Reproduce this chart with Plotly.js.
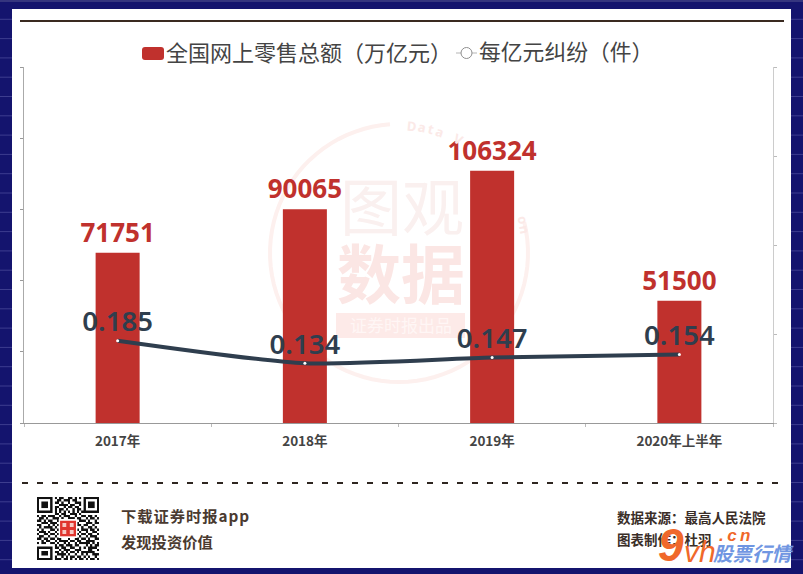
<!DOCTYPE html>
<html><head><meta charset="utf-8">
<script src="https://cdn.plot.ly/plotly-3.0.1.min.js"></script>
<style>html,body{margin:0;padding:0;background:#fff}#c{width:803px;height:574px}</style>
</head><body><div id="c"></div>
<script>
const categories = ['2017年','2018年','2019年','2020年上半年'];
const salesValues = [71751,90065,106324,51500];
const complaintValues = [0.185,0.134,0.147,0.154];
const salesName = '全国网上零售总额（万亿元）';
const complaintName = '每亿元纠纷（件）';
const footerLines = ['下\u200a载\u200a证\u200a券\u200a时\u200a报\u200aa\u200ap\u200ap','发现投资价值','数据来源：最高人民法院','图表制作：杜羽'];
const qrRows = [
'1111111010110011010101111111',
'1000001001101110110001000001',
'1011101011010010011101011101',
'1011101000111101100101011101',
'1011101011001011011001011101',
'1000001010110100101101000001',
'1111111010101010101011111111',
'0000000011011001110100000000',
'1011011100101110010011011010',
'0110100111010011101100101101',
'1101011001101100110111010010',
'0011101110010111001000111011',
'1100010101100000011101100100',
'0101111010100000010010011010',
'1010001101000000101011101101',
'0111010010100000010100100110',
'1001101101100000011011011001',
'0110010010011101100100101110',
'1101101101100010011011010011',
'0010110010111101101100111100',
'1011001101001010010111110101',
'0000000010110111011000101011',
'1111111011011001100101011110',
'1000001000101110011100011001',
'1011101011010101101011111100',
'1011101001111010010010100111',
'1000001010010101101101010010',
'1111111011101101010110101101'];

const W=803,H=574, FONT='"Noto Sans CJK SC","Noto Sans",sans-serif';
const px=x=>x/W, py=y=>1-y/H;
const rect=(x0,y0,x1,y1,fill)=>({type:'rect',xref:'paper',yref:'paper',x0:px(x0),x1:px(x1),y0:py(y0),y1:py(y1),fillcolor:fill,line:{width:0},layer:'below'});
const hline=(x0,x1,y,color,width,dash)=>({type:'line',xref:'paper',yref:'paper',x0:px(x0),x1:px(x1),y0:py(y),y1:py(y),line:{color,width,dash:dash||'solid'},layer:'below'});
const label=(text,x,y,size,color,opt)=>{
  const o=opt||{};
  const anchored=o.xanchor==='center';
  return Object.assign({xref:'paper',yref:'paper',x:px(anchored?x:x-2.5),y:py(y-1.5),text,showarrow:false,xanchor:'left',yanchor:'middle',font:{family:FONT,size,color}},o);
};

// page frame
const shapes=[rect(0,0,W,H,'#14146e'),rect(0,0,W,2,'#35357f')];
for(let y=19.3;y<H;y+=19.3) shapes.push(hline(0,W,y,'#3d3d8f',1));
shapes.push(rect(12,9,791,568,'#ffffff'));
shapes.push(hline(20,784,21,'#3a2a20',2));
shapes.push(hline(22,778,483,'#2e2620',2,'6px,9px'));

// watermark ring (open at the upper right, where the lettering runs)
const cx=399,cy=253,r=129;
let ring='';
for(let a=0;a<=280;a+=4){
  const t=(-4-a)*Math.PI/180;
  ring+=(a?'L':'M')+px(cx+r*Math.sin(t))+','+py(cy-r*Math.cos(t));
}
shapes.push({type:'path',xref:'paper',yref:'paper',path:ring,line:{color:'#fdf0ee',width:4},layer:'below'});
shapes.push(rect(336,313,465,338,'#fdeae8'));

// legend swatches
const sw=(x0,y0,x1,y1,rad)=>'M'+px(x0+rad)+','+py(y0)+'L'+px(x1-rad)+','+py(y0)+'Q'+px(x1)+','+py(y0)+' '+px(x1)+','+py(y0+rad)+'L'+px(x1)+','+py(y1-rad)+'Q'+px(x1)+','+py(y1)+' '+px(x1-rad)+','+py(y1)+'L'+px(x0+rad)+','+py(y1)+'Q'+px(x0)+','+py(y1)+' '+px(x0)+','+py(y1-rad)+'L'+px(x0)+','+py(y0+rad)+'Q'+px(x0)+','+py(y0)+' '+px(x0+rad)+','+py(y0)+'Z';
shapes.push({type:'path',xref:'paper',yref:'paper',path:sw(142,47,164,60,3),fillcolor:'#c0312d',line:{width:0}});
shapes.push(hline(456,477,53,'#b5b5b5',1));
shapes.push({type:'circle',xref:'paper',yref:'paper',x0:px(461),x1:px(472),y0:py(58.5),y1:py(47.5),fillcolor:'#fff',line:{color:'#8f8f8f',width:1}});

const annotations=[
  label(salesName,166,52,22,'#444444'),
  label(complaintName,479,52,21.8,'#444444'),
  label('图观',402,205,62,'#faf0ef',{xanchor:'center'}),
  label('数据',401,271,64,'#fbe6e4',{xanchor:'center',font:{family:FONT,size:64,color:'#fbe6e4',weight:700}}),
  label('证券时报出品',401,326,17,'#fff6f5',{xanchor:'center'}),
  label(footerLines[0],121,516,15.3,'#4a3a30',{font:{family:FONT,size:15.3,color:'#4a3a30',weight:700}}),
  label(footerLines[1],121,542,15.3,'#4a3a30',{font:{family:FONT,size:15.3,color:'#4a3a30',weight:700}}),
  label(footerLines[2],617,518,13.5,'#3a2e28',{font:{family:FONT,size:13.5,color:'#3a2e28',weight:700}}),
  label(footerLines[3],617,540,13.5,'#3a2e28',{font:{family:FONT,size:13.5,color:'#3a2e28',weight:700}}),
  label('9',658,546,46,'#f0682a',{font:{family:'Liberation Sans',size:46,color:'#f0682a',weight:700,style:'italic'}}),
  label('vh',684,553,30,'#f0682a',{font:{family:'Liberation Sans',size:30,color:'#f0682a',style:'italic'}}),
  label('.\u2009c\u2009n',719,537,17,'#f0682a',{font:{family:'Liberation Sans',size:17,color:'#f0682a',weight:700,style:'italic'}}),
  label('股票行情',713,554,19.5,'#7096e2',{font:{family:FONT,size:19.5,color:'#7096e2',weight:700,style:'italic'}})
];
// ring lettering, one glyph per angle step; the tall bar hides the ones that fall behind it
const ringText='Data Visualization';
[...ringText].forEach((ch,i)=>{
  const deg=6+i*4.3, t=deg*Math.PI/180;
  const gx=cx+(r-1)*Math.sin(t), gy=cy-(r-1)*Math.cos(t);
  if(ch!==' ' && !(gx>464 && gx<520)) annotations.push(label(ch,gx,gy+1.5,13,'#fbe9e7',{xanchor:'center',textangle:deg,font:{family:'"Noto Sans"',size:13,color:'#fbe9e7',weight:700}}));
});

// QR picture
const cv=document.createElement('canvas');cv.width=cv.height=224;
const g=cv.getContext('2d');g.fillStyle='#fff';g.fillRect(0,0,224,224);g.fillStyle='#111';
qrRows.forEach((row,j)=>[...row].forEach((b,i)=>{if(b==='1')g.fillRect(i*8,j*8,8,8);}));
g.fillStyle='#fff';g.fillRect(78,78,68,68);g.fillStyle='#e0352e';g.fillRect(84,84,56,56);
g.fillStyle='#f7c9c3';[[92,92],[118,92],[92,118],[118,118]].forEach(p=>g.fillRect(p[0],p[1],14,14));

const data=[
 {type:'bar',name:salesName,x:categories,y:salesValues,width:0.235,
  marker:{color:'#c0312d'},text:salesValues.map(String),textposition:'outside',cliponaxis:false,constraintext:'none',
  textfont:{family:'"Noto Sans",sans-serif',size:26,color:'#c0312d',weight:700}},
 {type:'scatter',mode:'lines+markers+text',name:complaintName,x:categories,y:complaintValues,yaxis:'y2',
  line:{color:'#2f3e4e',width:4,shape:'spline',smoothing:0.6},marker:{color:'#ffffff',size:3},
  text:complaintValues.map(v=>v.toFixed(3)),textposition:'top center',cliponaxis:false,
  textfont:{family:'"Noto Sans",sans-serif',size:27.5,color:'#2f3e4e',weight:600}}
];
const layout={
 width:W,height:H,margin:{l:0,r:0,t:0,b:0,pad:0},paper_bgcolor:'#ffffff',plot_bgcolor:'rgba(0,0,0,0)',showlegend:false,
 font:{family:FONT},
 xaxis:{domain:[px(24),px(773)],type:'category',tickson:'boundaries',ticks:'outside',ticklen:3,tickcolor:'#bbbbbb',
   showline:true,linecolor:'#999999',linewidth:1,showgrid:false,zeroline:false,automargin:false,ticklabelstandoff:6,
   tickfont:{family:FONT,size:13.5,color:'#444444',weight:700}},
 yaxis:{domain:[py(423),py(67)],range:[0,150000],dtick:30000,ticks:'outside',ticklen:3,tickcolor:'#999999',
   showline:true,linecolor:'#aaaaaa',linewidth:1,showgrid:false,zeroline:false,showticklabels:false,automargin:false},
 yaxis2:{domain:[py(423),py(67)],overlaying:'y',side:'right',range:[0,0.8],dtick:0.2,ticks:'outside',ticklen:3,tickcolor:'#bbbbbb',
   showline:true,linecolor:'#cccccc',linewidth:1,showgrid:false,zeroline:false,showticklabels:false,automargin:false},
 shapes,annotations,
 images:[{source:cv.toDataURL('image/png'),xref:'paper',yref:'paper',x:px(37),y:py(497),sizex:62/W,sizey:63/H,xanchor:'left',yanchor:'top',sizing:'stretch',layer:'above'}]
};
Plotly.newPlot('c',data,layout,{staticPlot:true,displayModeBar:false});
</script></body></html>
